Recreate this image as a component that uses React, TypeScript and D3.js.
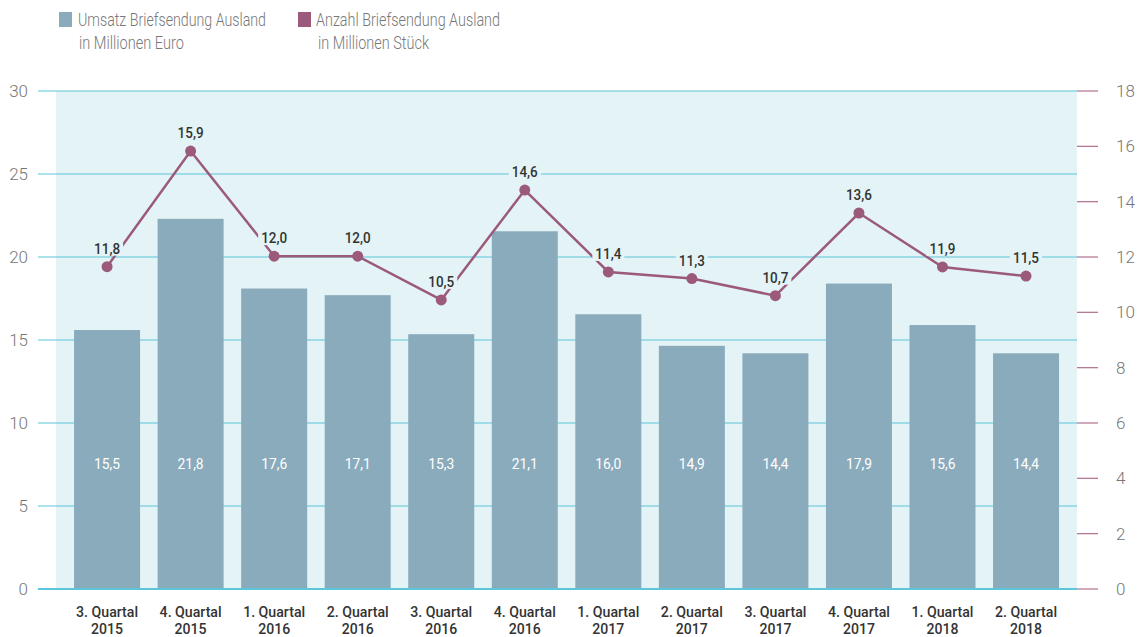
import React from "react";
import * as d3 from "d3";

const categories = [
  ["3. Quartal", "2015"], ["4. Quartal", "2015"], ["1. Quartal", "2016"], ["2. Quartal", "2016"],
  ["3. Quartal", "2016"], ["4. Quartal", "2016"], ["1. Quartal", "2017"], ["2. Quartal", "2017"],
  ["3. Quartal", "2017"], ["4. Quartal", "2017"], ["1. Quartal", "2018"], ["2. Quartal", "2018"],
];
// bar heights as drawn in the reference (left axis, Mio. Euro)
const umsatzDrawn = [15.6, 22.3, 18.1, 17.7, 15.35, 21.55, 16.55, 14.65, 14.2, 18.4, 15.9, 14.2];
const umsatzLabels = ["15,5", "21,8", "17,6", "17,1", "15,3", "21,1", "16,0", "14,9", "14,4", "17,9", "15,6", "14,4"];
// line values (right axis, Mio. Stück)
const anzahlDrawn = [11.65, 15.83, 12.03, 12.03, 10.45, 14.42, 11.46, 11.22, 10.6, 13.59, 11.64, 11.31];
const anzahlLabels = ["11,8", "15,9", "12,0", "12,0", "10,5", "14,6", "11,4", "11,3", "10,7", "13,6", "11,9", "11,5"];
const leftTicks = [0, 5, 10, 15, 20, 25, 30];
const rightTicks = [0, 2, 4, 6, 8, 10, 12, 14, 16, 18];

const W = 1144, H = 637;
const plotL = 56, plotR = 1077, plotT = 91, plotB = 589;
const BAR = "#8aabbc", BG = "#e3f3f6", GRID = "#5cc6da", LINE = "#9b5a7a", RT = "#b77a96";
const FONT = "'Roboto', sans-serif";

export default function App() {
  const x = d3.scaleBand<number>().domain(d3.range(categories.length)).range([65.3, 1067.8]).paddingInner(0.21).paddingOuter(0.105);
  const yL = d3.scaleLinear().domain([0, 30]).range([plotB, plotT]);
  const yR = d3.scaleLinear().domain([0, 18]).range([plotB, plotT]);
  const cx = (i: number) => (x(i) as number) + x.bandwidth() / 2;
  const line = d3.line<number>().x((_, i) => cx(i)).y((d) => yR(d));
  const legendProps = { fontFamily: FONT, fontSize: 17.5, fontWeight: 300, fill: "#777", lengthAdjust: "spacingAndGlyphs" as const };

  return (
    <svg width={W} height={H} style={{ position: "absolute", left: 0, top: 0 }}>
      <rect x={0} y={0} width={W} height={H} fill="#fff" />
      {/* legend */}
      <rect x={59} y={12} width={13} height={15} fill={BAR} />
      <text x={78} y={26} textLength={188} {...legendProps}>Umsatz Briefsendung Ausland</text>
      <text x={79} y={49} textLength={105} {...legendProps}>in Millionen Euro</text>
      <rect x={298} y={12} width={13} height={15} fill={LINE} />
      <text x={316} y={26} textLength={184} {...legendProps}>Anzahl Briefsendung Ausland</text>
      <text x={318} y={49} textLength={111} {...legendProps}>in Millionen Stück</text>

      <rect x={plotL} y={plotT} width={plotR - plotL} height={plotB - plotT} fill={BG} />
      {leftTicks.map((t) => (
        <g key={"l" + t}>
          <line x1={38} x2={plotR} y1={yL(t)} y2={yL(t)} stroke={GRID} strokeWidth={t === 0 ? 2 : 1.2} />
          <text x={28} y={yL(t) + 6} textAnchor="end" fontFamily={FONT} fontSize={17} fontWeight={300} fill="#777">{t}</text>
        </g>
      ))}
      {rightTicks.map((t) => (
        <g key={"r" + t}>
          <line x1={plotR} x2={1098} y1={yR(t)} y2={yR(t)} stroke={RT} strokeWidth={1.3} />
          <text x={1116} y={yR(t) + 6} fontFamily={FONT} fontSize={17} fontWeight={300} fill="#777">{t}</text>
        </g>
      ))}
      {umsatzDrawn.map((v, i) => (
        <rect key={"b" + i} x={x(i)} y={yL(v)} width={x.bandwidth()} height={yL(0) - yL(v)} fill={BAR} />
      ))}
      <line x1={plotL} x2={plotR} y1={yL(0)} y2={yL(0)} stroke={GRID} strokeWidth={2} />
      {umsatzLabels.map((s, i) => (
        <text key={"bl" + i} x={cx(i)} y={469} textAnchor="middle" fontFamily={FONT} fontSize={14} fill="#fff" textLength={26} lengthAdjust="spacingAndGlyphs">{s}</text>
      ))}
      <path d={line(anzahlDrawn) || ""} fill="none" stroke={LINE} strokeWidth={2.5} />
      {anzahlDrawn.map((v, i) => (
        <circle key={"c" + i} cx={cx(i)} cy={yR(v)} r={5.5} fill={LINE} />
      ))}
      {anzahlLabels.map((s, i) => (
        <g key={"ll" + i}>
          <rect x={cx(i) - 16} y={yR(anzahlDrawn[i]) - 27} width={32} height={16} fill={BG} />
          <text x={cx(i)} y={yR(anzahlDrawn[i]) - 13} textAnchor="middle" fontFamily={FONT} fontSize={14} fontWeight={500} fill="#333" textLength={26} lengthAdjust="spacingAndGlyphs">{s}</text>
        </g>
      ))}
      {categories.map((c, i) => (
        <text key={"x" + i} x={cx(i)} textAnchor="middle" fontFamily={FONT} fontSize={15} fontWeight={500} fill="#333">
          <tspan x={cx(i)} y={617} textLength={62} lengthAdjust="spacingAndGlyphs">{c[0]}</tspan>
          <tspan x={cx(i)} y={634} textLength={32} lengthAdjust="spacingAndGlyphs">{c[1]}</tspan>
        </text>
      ))}
    </svg>
  );
}
